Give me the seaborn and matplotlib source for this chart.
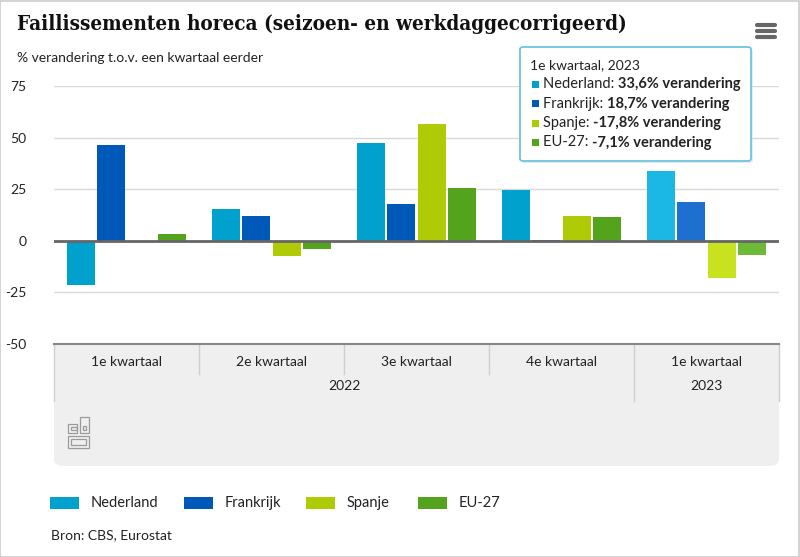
import numpy as np
import pandas as pd
import matplotlib
matplotlib.use("Agg")
import matplotlib.pyplot as plt
from matplotlib.patches import Rectangle, FancyBboxPatch
from matplotlib.lines import Line2D
import matplotlib.transforms as mtransforms
import seaborn as sns

# ---- data ----
periods = ["2022 Q1", "2022 Q2", "2022 Q3", "2022 Q4", "2023 Q1"]
quarter_labels = ["1e kwartaal", "2e kwartaal", "3e kwartaal", "4e kwartaal", "1e kwartaal"]
year_labels = ["2022", "2023"]
series = ["Nederland", "Frankrijk", "Spanje", "EU-27"]
nederland = [-21.3, 15.5, 47.5, 24.7, 33.6]
frankrijk = [46.5, 12.1, 17.9, 0.4, 18.7]
spanje = [0.0, -7.3, 56.7, 12.1, -17.8]
eu27 = [3.4, -3.9, 25.7, 11.6, -7.1]
yticks = [-50, -25, 0, 25, 50, 75]

colors = ["#00a1cd", "#0058b8", "#afcb05", "#53a31d"]
hover_colors = ["#1bb8e6", "#1d6fd0", "#c8e21f", "#6cba35"]

df = pd.DataFrame({
    "period": np.repeat(periods, 4),
    "serie": series * len(periods),
    "value": np.ravel(np.column_stack([nederland, frankrijk, spanje, eu27])),
})

W, H = 800, 557
fig = plt.figure(figsize=(W / 100, H / 100), dpi=100)
FONT = "Lato"
plt.rcParams["font.family"] = [FONT, "DejaVu Sans"]

def fx(px):
    return px / W

def fy(py):
    return 1 - py / H

# outer border
fig.patches.append(Rectangle((0.0005, 0.0005), 0.998, 0.998, transform=fig.transFigure,
                             fill=False, edgecolor="#cccccc", linewidth=1.2, zorder=-2))

# gray x-axis box
box = FancyBboxPatch((fx(54), fy(466)), fx(779) - fx(54), fy(350) - fy(466),
                     boxstyle="round,pad=0,rounding_size=0.012", transform=fig.transFigure,
                     facecolor="#efefef", edgecolor="none", zorder=-1)
fig.patches.append(box)
fig.patches.append(Rectangle((fx(54), fy(420)), fx(779) - fx(54), fy(344) - fy(420),
                             transform=fig.transFigure, facecolor="#efefef",
                             edgecolor="none", zorder=-1))

ax = fig.add_axes([fx(54), fy(344), fx(779) - fx(54), fy(86) - fy(344)])
ax.set_facecolor("none")
sns.barplot(data=df, x="period", y="value", hue="serie", order=periods,
            hue_order=series, palette=colors, width=0.84, gap=0.08,
            linewidth=0, saturation=1, legend=False, ax=ax, zorder=3)

# hover highlight on last group
for cont, hc in zip(ax.containers, hover_colors):
    cont.patches[-1].set_facecolor(hc)

ax.set_ylim(-50, 75)
ax.set_xlim(-0.5, len(periods) - 0.5)
ax.set_yticks(yticks)
ax.set_yticklabels([str(t) for t in yticks], fontsize=10, color="#222222")
ax.grid(axis="y", color="#d9d9d9", linewidth=1)
ax.grid(axis="x", visible=False)
ax.set_axisbelow(True)
ax.axhline(0, color="#666666", linewidth=2, zorder=4)
for s in ["top", "right", "left"]:
    ax.spines[s].set_visible(False)
ax.spines["bottom"].set_color("#888888")
ax.spines["bottom"].set_linewidth(1.5)
ax.tick_params(axis="y", length=0, pad=20)
for lbl in ax.get_yticklabels():
    lbl.set_horizontalalignment("right")
ax.set_xticks(range(len(periods)))
ax.set_xticklabels(quarter_labels)
ax.tick_params(axis="x", length=0, pad=9, labelsize=10, labelcolor="#222222")
ax.set_xlabel("")
ax.set_ylabel("")

# separators and year labels
blend = mtransforms.blended_transform_factory(ax.transData, fig.transFigure)
for xb in [0.5, 1.5, 2.5]:
    fig.add_artist(Line2D([xb, xb], [fy(345), fy(374)], transform=blend,
                          color="#cfcfcf", linewidth=1, zorder=-0.5))
for xb in [-0.5, 3.5, 4.5]:
    fig.add_artist(Line2D([xb, xb], [fy(345), fy(401)], transform=blend,
                          color="#cfcfcf", linewidth=1, zorder=-0.5))
fig.text(1.5, fy(386), year_labels[0], transform=blend, ha="center", va="center",
         fontsize=10, color="#222222")
fig.text(4.0, fy(386), year_labels[1], transform=blend, ha="center", va="center",
         fontsize=10, color="#222222")

# cbs logo (simple outline)
logo_c = "#9a9a9a"
def lrect(x0, y0, x1, y1):
    fig.patches.append(Rectangle((fx(x0), fy(y1)), fx(x1) - fx(x0), fy(y0) - fy(y1),
                                 transform=fig.transFigure, fill=False,
                                 edgecolor=logo_c, linewidth=0.9))
lrect(68, 424, 77, 433)
lrect(71, 427, 77, 430)
lrect(80, 417, 89, 433)
lrect(83, 426, 86, 430)
lrect(68, 436, 89, 448)
lrect(71, 439, 86, 445)

# title & subtitle
fig.text(fx(17), fy(24), "Faillissementen horeca (seizoen- en werkdaggecorrigeerd)",
         fontsize=14.9, fontweight="bold", family=["DejaVu Serif"], color="#111111",
         va="center", ha="left", fontstretch="condensed")
fig.text(fx(17), fy(58), "% verandering t.o.v. een kwartaal eerder",
         fontsize=10, color="#222222", va="center", ha="left")

# hamburger icon
for yy in [25, 31, 37]:
    fig.add_artist(Line2D([fx(757), fx(775)], [fy(yy), fy(yy)], transform=fig.transFigure,
                          color="#666666", linewidth=3, solid_capstyle="round"))

# tooltip
fig.patches.append(FancyBboxPatch((fx(522), fy(163)), fx(753) - fx(522), fy(49) - fy(163),
                                  boxstyle="round,pad=0,rounding_size=0.004",
                                  transform=fig.transFigure, facecolor="#dddddd",
                                  edgecolor="none", alpha=0.6, zorder=9))
fig.patches.append(FancyBboxPatch((fx(520), fy(161)), fx(751) - fx(520), fy(47) - fy(161),
                                  boxstyle="round,pad=0,rounding_size=0.004",
                                  transform=fig.transFigure, facecolor="#ffffff",
                                  edgecolor="#6cc5e2", linewidth=1.3, zorder=10))
fig.text(fx(530), fy(65), "1e kwartaal, 2023", fontsize=10, color="#222222",
         va="center", ha="left", zorder=11)
vals_last = [nederland[-1], frankrijk[-1], spanje[-1], eu27[-1]]
for i, (name, v, c) in enumerate(zip(series, vals_last, colors)):
    yy = 84 + i * 19.5
    fig.patches.append(Rectangle((fx(532), fy(yy + 3.5)), fx(7), fy(0) - fy(7),
                                 transform=fig.transFigure, facecolor=c,
                                 edgecolor="none", zorder=11))
    t = fig.text(fx(543), fy(yy), f"{name}: ", fontsize=10.5, color="#222222",
                 va="center", ha="left", zorder=11)
    fig.canvas.draw()
    bb = t.get_window_extent()
    vs = f"{v:.1f}".replace(".", ",")
    fig.text(bb.x1 / W, fy(yy), f"{vs}% verandering", fontsize=10.5,
             fontweight="bold", color="#222222", va="center", ha="left", zorder=11)

# legend
leg_x = [50, 184, 306, 418]
for name, c, lx in zip(series, colors, leg_x):
    fig.patches.append(Rectangle((fx(lx), fy(509)), fx(29), fy(0) - fy(12),
                                 transform=fig.transFigure, facecolor=c, edgecolor="none"))
    fig.text(fx(lx + 41), fy(503), name, fontsize=10.5, color="#222222",
             va="center", ha="left")

fig.text(fx(51), fy(535), "Bron: CBS, Eurostat", fontsize=10, color="#222222",
         va="center", ha="left")

fig.savefig("out.png", dpi=100)
